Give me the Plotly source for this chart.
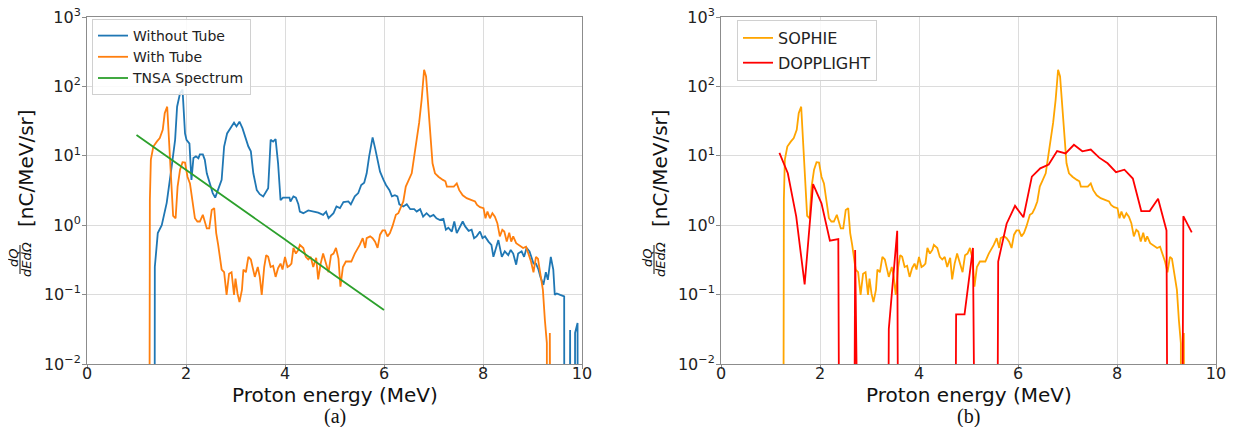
import plotly.graph_objects as go
from plotly.subplots import make_subplots

# ---- data (MeV, nC/MeV/sr); 0 = below detection ----
without_tube_e = [1.33, 1.37, 1.43, 1.51, 1.61, 1.64, 1.71, 1.78, 1.82, 1.88, 1.93, 1.98,
                  2.01, 2.07, 2.11, 2.15, 2.20, 2.25, 2.28, 2.34, 2.38, 2.42, 2.48, 2.54,
                  2.59, 2.65, 2.72, 2.77, 2.83, 2.92, 2.97, 3.02, 3.08, 3.14, 3.19, 3.26,
                  3.31, 3.36, 3.43, 3.49, 3.56, 3.63, 3.66, 3.71, 3.76, 3.81, 3.86, 3.91,
                  3.96, 4.03, 4.09, 4.11, 4.17, 4.22, 4.27, 4.30, 4.37, 4.47, 4.57, 4.67,
                  4.77, 4.83, 4.88, 4.98, 5.04, 5.11, 5.18, 5.28, 5.33, 5.41, 5.48, 5.54,
                  5.60, 5.65, 5.70, 5.73, 5.77, 5.82, 5.87, 5.92, 5.99, 6.04, 6.11, 6.16,
                  6.22, 6.27, 6.31, 6.39, 6.46, 6.53, 6.61, 6.66, 6.73, 6.79, 6.86, 6.93,
                  7.00, 7.06, 7.13, 7.20, 7.25, 7.30, 7.37, 7.42, 7.47, 7.54, 7.59, 7.64,
                  7.71, 7.77, 7.82, 7.87, 7.94, 7.99, 8.04, 8.11, 8.17, 8.21, 8.26, 8.31,
                  8.38, 8.44, 8.51, 8.56, 8.61, 8.67, 8.71, 8.78, 8.83, 8.88, 8.94, 8.97,
                  9.02, 9.07, 9.12, 9.16, 9.22, 9.27, 9.31, 9.37, 9.42, 9.45, 9.49, 9.56,
                  9.64, 9.67, 9.72, 9.76, 9.79, 9.83, 9.86, 9.91, 9.96, 10.0]
without_tube = [0, 0.25, 0.77, 1.0, 2.1, 2.9, 7.0, 17, 51, 80, 90, 21,
                17, 15, 4.5, 9.3, 9.8, 9.2, 10.5, 10.5, 8.75, 5.6, 4.0, 2.9,
                2.5, 3.3, 4.5, 13.6, 21, 26.5, 30, 26.5, 31, 25, 19, 13.6,
                11.6, 5.6, 3.2, 2.8, 2.6, 3.2, 3.4, 17, 16, 17.4, 7.8, 2.3,
                2.5, 2.5, 2.5, 2.2, 2.6, 2.5, 2.0, 1.57, 1.49, 1.63, 1.57, 1.52,
                1.41, 1.57, 1.26, 1.49, 1.86, 1.76, 2.15, 2.2, 2.0, 2.6, 2.9, 3.8,
                4.1, 5.6, 9.8, 13.6, 18.4, 12.9, 8.75, 5.9, 4.5, 3.8, 3.2, 2.6,
                2.7, 2.6, 2.0, 1.86, 2.0, 1.7, 1.7, 1.57, 1.7, 1.33, 1.49, 1.33,
                1.41, 1.26, 1.19, 1.23, 0.86, 0.92, 0.81, 1.13, 0.77, 0.96, 1.13, 0.96,
                0.83, 0.86, 0.65, 0.69, 0.81, 0.65, 0.69, 0.58, 0.52, 0.35, 0.47, 0.61,
                0.35, 0.42, 0.37, 0.44, 0.39, 0.27, 0.39, 0.42, 0.35, 0.47, 0.42, 0.35,
                0.28, 0.28, 0.23, 0.18, 0.138, 0.21, 0.163, 0.35, 0.23, 0.099, 0.104, 0.099,
                0.094, 0, 0, 0.031, 0, 0, 0.028, 0.039, 0, 0]

with_tube_e = [1.20, 1.27, 1.29, 1.34, 1.41, 1.47, 1.53, 1.57, 1.62, 1.66, 1.71, 1.74,
               1.79, 1.83, 1.88, 1.93, 1.98, 2.03, 2.08, 2.11, 2.15, 2.18, 2.23, 2.28,
               2.34, 2.38, 2.42, 2.47, 2.52, 2.57, 2.61, 2.65, 2.72, 2.77, 2.82, 2.87,
               2.92, 2.97, 3.00, 3.04, 3.08, 3.13, 3.16, 3.21, 3.26, 3.31, 3.35, 3.39,
               3.45, 3.49, 3.53, 3.58, 3.62, 3.66, 3.71, 3.76, 3.81, 3.86, 3.91, 3.95,
               4.00, 4.05, 4.09, 4.13, 4.17, 4.22, 4.27, 4.30, 4.37, 4.42, 4.47, 4.52,
               4.57, 4.63, 4.67, 4.72, 4.77, 4.83, 4.88, 4.93, 4.98, 5.03, 5.08, 5.12,
               5.17, 5.23, 5.28, 5.34, 5.41, 5.48, 5.51, 5.57, 5.62, 5.65, 5.72, 5.77,
               5.82, 5.87, 5.92, 5.97, 6.02, 6.07, 6.12, 6.17, 6.24, 6.29, 6.34, 6.39,
               6.44, 6.49, 6.56, 6.61, 6.66, 6.71, 6.76, 6.81, 6.85, 6.89, 6.94, 6.98,
               7.03, 7.10, 7.19, 7.24, 7.27, 7.34, 7.41, 7.47, 7.52, 7.59, 7.67, 7.77,
               7.84, 7.88, 7.94, 8.01, 8.05, 8.09, 8.14, 8.19, 8.24, 8.29, 8.34, 8.39,
               8.43, 8.48, 8.53, 8.57, 8.61, 8.67, 8.75, 8.81, 8.87, 8.92, 8.97, 9.02,
               9.07, 9.11, 9.15, 9.21, 9.25, 9.29, 9.32, 9.35, 9.39, 9.50]
with_tube = [0, 2.3, 8.8, 13.6, 16, 18, 23.7, 41, 51, 17, 2.9, 1.36,
             1.26, 3.6, 6.3, 8.1, 8.0, 5.0, 4.0, 2.9, 1.86, 1.26, 1.13, 1.13,
             1.41, 1.13, 0.9, 0.9, 1.66, 1.76, 0.77, 0.52, 0.23, 0.21, 0.099, 0.20,
             0.21, 0.099, 0.17, 0.104, 0.078, 0.117, 0.23, 0.21, 0.35, 0.32, 0.25, 0.18,
             0.25, 0.18, 0.099, 0.25, 0.37, 0.35, 0.25, 0.26, 0.18, 0.24, 0.28, 0.23,
             0.35, 0.25, 0.26, 0.28, 0.47, 0.39, 0.44, 0.52, 0.47, 0.35, 0.32, 0.35,
             0.25, 0.34, 0.166, 0.28, 0.39, 0.28, 0.21, 0.37, 0.39, 0.47, 0.33, 0.13,
             0.25, 0.30, 0.30, 0.30, 0.39, 0.47, 0.52, 0.65, 0.47, 0.65, 0.69, 0.65,
             0.58, 0.47, 0.73, 0.84, 0.84, 0.69, 0.77, 0.96, 1.41, 1.49, 1.76, 2.2,
             3.6, 4.3, 5.6, 9.8, 17, 30, 64, 174, 139, 51, 17, 7.8,
             5.6, 5.0, 4.5, 4.3, 3.6, 3.6, 3.6, 4.0, 3.2, 2.7, 2.45, 2.3,
             2.2, 1.96, 1.82, 1.76, 1.26, 1.57, 1.26, 1.49, 1.33, 1.07, 0.69, 0.86,
             0.81, 0.58, 0.78, 0.58, 0.69, 0.55, 0.51, 0.47, 0.49, 0.39, 0.30, 0.21,
             0.35, 0.33, 0.21, 0.117, 0.043, 0.02, 0, 0.028, 0, 0]

tnsa_e = [1, 2, 3, 4, 5, 6]
tnsa = [20, 6.3, 2.0, 0.62, 0.19, 0.06]

# panel (b): SOPHIE is the same spectrum as "With Tube"
sophie_e = with_tube_e
sophie = with_tube

dopplight_e = [1.18, 1.35, 1.52, 1.69, 1.86, 2.03, 2.20, 2.37, 2.54, 2.71, 2.88, 3.05,
               3.22, 3.39, 3.56, 3.73, 3.90, 4.07, 4.24, 4.41, 4.58, 4.75, 4.92, 5.09,
               5.26, 5.43, 5.60, 5.77, 5.94, 6.11, 6.28, 6.45, 6.62, 6.79, 6.96, 7.13,
               7.30, 7.47, 7.64, 7.81, 7.98, 8.15, 8.32, 8.49, 8.66, 8.83, 9.00, 9.17,
               9.34, 9.51]
dopplight = [11, 5.6, 1.33, 0.14, 3.9, 2.07, 0.6, 0.63, 0, 0.44, 0, 0,
             0, 0.032, 0.83, 0, 0, 0, 0, 0, 0, 0.052, 0.052, 0.47,
             0, 0, 0.3, 1.05, 1.9, 1.3, 5.0, 6.6, 7.5, 11.7, 10.8, 14.4,
             11.6, 12.3, 9.4, 7.8, 5.8, 6.3, 4.7, 1.6, 1.6, 2.4, 0.84, 0,
             1.35, 0.79]

y_ticks = [1e-2, 1e-1, 1, 10, 100, 1000]
y_tick_text = ["10<sup>\u22122</sup>", "10<sup>\u22121</sup>", "10<sup>0</sup>",
               "10<sup>1</sup>", "10<sup>2</sup>", "10<sup>3</sup>"]
x_ticks = [0, 2, 4, 6, 8, 10]


def clip(vals):
    # zeros can't sit on a log axis: push them far below the frame
    return [v if v > 0 else 1e-30 for v in vals]


# page body has an 8px margin, so the figure is laid out 8px in from the corner
PAD = 8
W, H = 1237 - 2 * PAD, 435 - 2 * PAD
FONT = "DejaVu Sans"


def px(x):
    return (x - PAD) / W


def py(y):
    return 1 - (y - PAD) / H


fig = make_subplots(rows=1, cols=2)

fig.add_trace(go.Scatter(x=without_tube_e, y=clip(without_tube), mode="lines",
                         name="Without Tube", line=dict(color="#1f77b4", width=1.8),
                         legend="legend"), row=1, col=1)
fig.add_trace(go.Scatter(x=with_tube_e, y=clip(with_tube), mode="lines",
                         name="With Tube", line=dict(color="#ff7f0e", width=1.8),
                         legend="legend"), row=1, col=1)
fig.add_trace(go.Scatter(x=tnsa_e, y=tnsa, mode="lines",
                         name="TNSA Spectrum", line=dict(color="#2ca02c", width=1.8),
                         legend="legend"), row=1, col=1)

fig.add_trace(go.Scatter(x=sophie_e, y=clip(sophie), mode="lines",
                         name="SOPHIE", line=dict(color="#ffa500", width=1.8),
                         legend="legend2", legendgroup="s"), row=1, col=2)
fig.add_trace(go.Scatter(x=dopplight_e, y=clip(dopplight), mode="lines",
                         name="DOPPLIGHT", line=dict(color="#ff0000", width=1.8),
                         legend="legend2", legendgroup="d"), row=1, col=2)

ydom = [py(364), py(17)]
panels = [(1, 87, 582), (2, 721, 1216)]

for col, x0, x1 in panels:
    fig.update_xaxes(row=1, col=col, domain=[px(x0), px(x1)], range=[0, 10],
                     tickvals=x_ticks, showgrid=True, gridcolor="#dcdcdc",
                     showline=True, linecolor="#8c8c8c", mirror=True,
                     ticks="outside", ticklen=4, tickcolor="#8c8c8c",
                     ticklabelstandoff=-9, ticklabeloverflow="allow",
                     tickfont=dict(family=FONT, size=16, color="#222"),
                     zeroline=False, automargin=False)
    fig.update_yaxes(row=1, col=col, domain=ydom, type="log", range=[-2, 3],
                     tickvals=y_ticks, ticktext=y_tick_text, showgrid=True,
                     gridcolor="#dcdcdc", showline=True, linecolor="#8c8c8c",
                     mirror=True, ticks="outside", ticklen=4, tickcolor="#8c8c8c",
                     ticklabelstandoff=-2, ticklabeloverflow="allow",
                     tickfont=dict(family=FONT, size=16, color="#222"),
                     zeroline=False, automargin=False)

annotations = []
for (col, x0, x1), lab in zip(panels, ["(a)", "(b)"]):
    off = x0 - 87
    mid = (x0 + x1) / 2
    annotations += [
        dict(text="Proton energy (MeV)", x=px(mid), y=py(395),
             font=dict(family=FONT, size=20, color="#111")),
        dict(text="[nC/MeV/sr]", x=px(26 + off), y=py(168), textangle=-90,
             font=dict(family=FONT, size=20, color="#111")),
        dict(text="<i>dQ</i>", x=px(14 + off), y=py(258), textangle=-90,
             font=dict(family=FONT, size=13, color="#111")),
        dict(text="<i>dEd\u03a9</i>", x=px(26 + off), y=py(260), textangle=-90,
             font=dict(family=FONT, size=13, color="#111")),
        dict(text=lab, x=px(mid), y=py(416),
             font=dict(family="Liberation Serif", size=20, color="#111")),
    ]
for a in annotations:
    a.update(xref="paper", yref="paper", showarrow=False,
             xanchor="center", yanchor="middle")

shapes = [dict(type="line", xref="paper", yref="paper",
               x0=px(20 + off), x1=px(20 + off),
               y0=py(245), y1=py(274), line=dict(color="#111", width=1))
          for off in (0, 721 - 87)]

leg_style = dict(bgcolor="rgba(255,255,255,0.85)", bordercolor="#d0d0d0",
                 borderwidth=1, xanchor="left", yanchor="top")

fig.update_layout(
    width=W, height=H, margin=dict(l=0, r=0, t=0, b=0),
    plot_bgcolor="white", paper_bgcolor="white",
    showlegend=True,
    legend=dict(x=px(92), y=py(19), tracegroupgap=0,
                font=dict(family=FONT, size=14, color="#222"), **leg_style),
    legend2=dict(x=px(737), y=py(20), tracegroupgap=1,
                 font=dict(family=FONT, size=16, color="#222"), **leg_style),
    annotations=annotations, shapes=shapes,
)

fig.write_html("out.html")
